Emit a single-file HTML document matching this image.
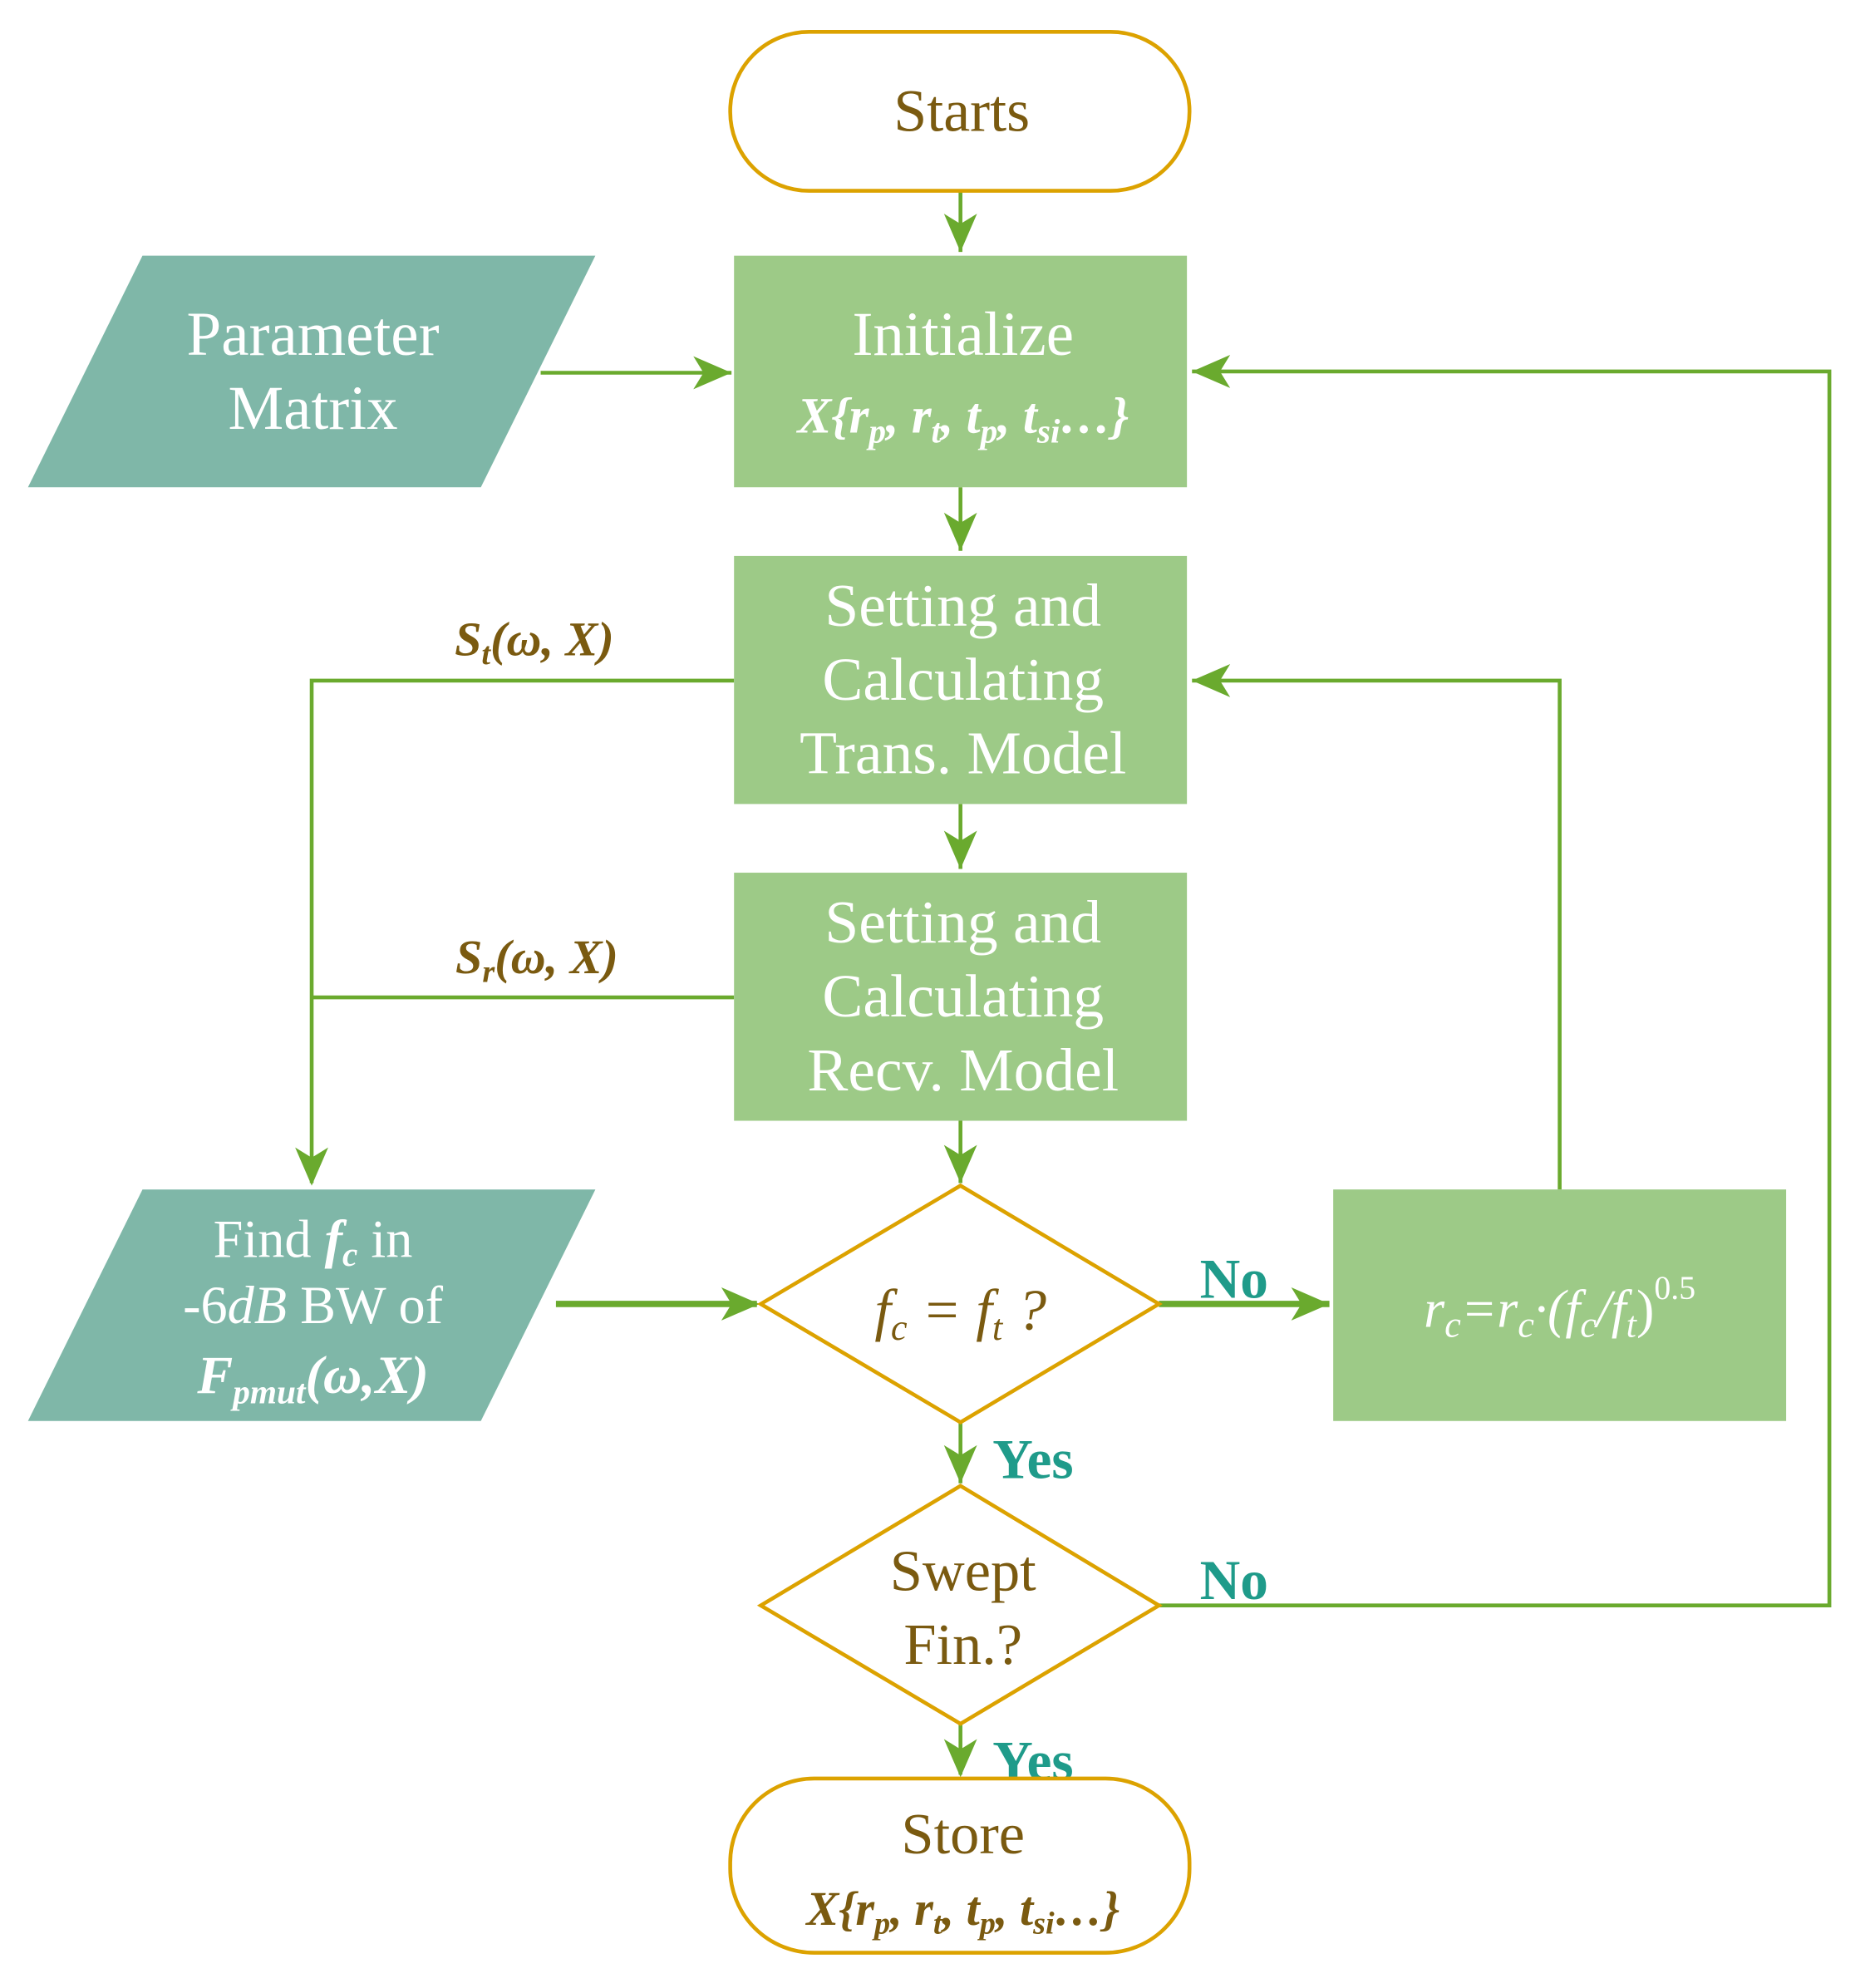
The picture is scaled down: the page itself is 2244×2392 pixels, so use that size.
<!DOCTYPE html>
<html><head><meta charset="utf-8"><style>
html,body{margin:0;padding:0;background:#fff;}
svg{display:block;}
text{font-family:"Liberation Serif",serif;}
</style></head><body>
<svg width="2244" height="2392" viewBox="0 0 1466 1562.7" xmlns="http://www.w3.org/2000/svg">
<g stroke="#6aaa2e" stroke-width="3" fill="none">
<path d="M755,150 V198"/><path d="M425,293 H575"/><path d="M755,383 V433"/><path d="M755,632 V683"/><path d="M755,881 V930"/>
<path d="M437,1025 H595" stroke-width="5"/><path d="M911,1025 H1045" stroke-width="5"/>
<path d="M1226,935 V535 H937"/><path d="M577,535 H245 V930"/><path d="M577,784 H245"/>
<path d="M755,1118 V1166"/><path d="M911,1262 H1438 V292 H937"/><path d="M755,1355 V1395"/>
</g>
<g fill="#6aaa2e">
<path d="M755,198 l-13,-30 l13,8 l13,-8 z"/>
<path d="M575,293 l-30,-13 l8,13 l-8,13 z"/>
<path d="M755,433 l-13,-30 l13,8 l13,-8 z"/>
<path d="M755,683 l-13,-30 l13,8 l13,-8 z"/>
<path d="M755,930 l-13,-30 l13,8 l13,-8 z"/>
<path d="M597,1025 l-30,-13 l8,13 l-8,13 z"/>
<path d="M1045,1025 l-30,-13 l8,13 l-8,13 z"/>
<path d="M937,535 l30,-13 l-8,13 l8,13 z"/>
<path d="M937,292 l30,-13 l-8,13 l8,13 z"/>
<path d="M245,932 l-13,-30 l13,8 l13,-8 z"/>
<path d="M755,1166 l-13,-30 l13,8 l13,-8 z"/>
<path d="M755,1397 l-13,-30 l13,8 l13,-8 z"/>
</g>
<rect x="574" y="25" width="361" height="125" rx="62" fill="#fff" stroke="#dca200" stroke-width="3"/>
<text x="756" y="103" font-size="47" fill="#7a5a10" text-anchor="middle">Starts</text>
<polygon points="112,201 468,201 378,383 22,383" fill="#7fb7a8"/>
<text x="246" y="279" font-size="49" fill="#fff" text-anchor="middle">Parameter</text>
<text x="246" y="337" font-size="49" fill="#fff" text-anchor="middle">Matrix</text>
<rect x="577" y="201" width="356" height="182" fill="#9dca87"/>
<text x="757" y="279" font-size="49" fill="#fff" text-anchor="middle">Initialize</text>
<text x="757" y="340" font-size="40" fill="#fff" text-anchor="middle" font-weight="bold" font-style="italic">X{r<tspan font-size="27" dy="8">p</tspan><tspan dy="-8">, r</tspan><tspan font-size="27" dy="8">t</tspan><tspan dy="-8">, t</tspan><tspan font-size="27" dy="8">p</tspan><tspan dy="-8">, t</tspan><tspan font-size="27" dy="8">si</tspan><tspan dy="-8">…}</tspan></text>
<rect x="577" y="437" width="356" height="195" fill="#9dca87"/>
<text x="757" y="492" font-size="48" fill="#fff" text-anchor="middle">Setting and</text>
<text x="757" y="550" font-size="48" fill="#fff" text-anchor="middle">Calculating</text>
<text x="757" y="608" font-size="48" fill="#fff" text-anchor="middle">Trans. Model</text>
<rect x="577" y="686" width="356" height="195" fill="#9dca87"/>
<text x="757" y="741" font-size="48" fill="#fff" text-anchor="middle">Setting and</text>
<text x="757" y="799" font-size="48" fill="#fff" text-anchor="middle">Calculating</text>
<text x="757" y="857" font-size="48" fill="#fff" text-anchor="middle">Recv. Model</text>
<text x="420" y="515" font-size="38" fill="#7a5a10" text-anchor="middle" font-weight="bold" font-style="italic">S<tspan font-size="25" dy="7">t</tspan><tspan dy="-7">(ω, X)</tspan></text>
<text x="422" y="765" font-size="38" fill="#7a5a10" text-anchor="middle" font-weight="bold" font-style="italic">S<tspan font-size="25" dy="7">r</tspan><tspan dy="-7">(ω, X)</tspan></text>
<polygon points="112,935 468,935 378,1117 22,1117" fill="#7fb7a8"/>
<text x="246" y="988" font-size="42" fill="#fff" text-anchor="middle">Find <tspan font-style="italic" font-weight="bold">f</tspan><tspan font-style="italic" font-weight="bold" font-size="27" dy="7">c</tspan><tspan dy="-7"> in</tspan></text>
<text x="246" y="1040" font-size="42" fill="#fff" text-anchor="middle">-6<tspan font-style="italic">dB</tspan> BW of</text>
<text x="246" y="1095" font-size="42" fill="#fff" text-anchor="middle" font-weight="bold" font-style="italic">F<tspan font-size="27" dy="8">pmut</tspan><tspan dy="-8">(ω,X)</tspan></text>
<polygon points="755,932 911,1025 755,1118 598,1025" fill="#fff" stroke="#dca200" stroke-width="3"/>
<text x="755" y="1045" font-size="46" fill="#7a5a10" text-anchor="middle" font-style="italic">f<tspan font-size="29" dy="8">c</tspan><tspan dy="-8"> = f</tspan><tspan font-size="29" dy="8">t</tspan><tspan dy="-8"> ?</tspan></text>
<rect x="1048" y="935" width="356" height="182" fill="#9dca87"/>
<text x="1226" y="1043" font-size="42" fill="#fff" text-anchor="middle" font-style="italic">r<tspan font-size="29" dy="8">c</tspan><tspan dy="-8">=r</tspan><tspan font-size="29" dy="8">c</tspan><tspan dy="-8">·(f</tspan><tspan font-size="29" dy="8">c</tspan><tspan dy="-8">/f</tspan><tspan font-size="29" dy="8">t</tspan><tspan dy="-8" font-style="normal">)</tspan><tspan font-size="26" dy="-22" font-style="normal">0.5</tspan></text>
<text x="970" y="1020" font-size="44" fill="#1f9b8a" text-anchor="middle" font-weight="bold">No</text>
<text x="970" y="1257" font-size="44" fill="#1f9b8a" text-anchor="middle" font-weight="bold">No</text>
<text x="812" y="1162" font-size="44" fill="#1f9b8a" text-anchor="middle" font-weight="bold">Yes</text>
<text x="812" y="1399" font-size="44" fill="#1f9b8a" text-anchor="middle" font-weight="bold">Yes</text>
<polygon points="755,1168 911,1262 755,1355 598,1262" fill="#fff" stroke="#dca200" stroke-width="3"/>
<text x="757" y="1250" font-size="46" fill="#7a5a10" text-anchor="middle">Swept</text>
<text x="757" y="1308" font-size="46" fill="#7a5a10" text-anchor="middle">Fin.?</text>
<rect x="574" y="1398" width="361" height="137" rx="66" fill="#fff" stroke="#dca200" stroke-width="3"/>
<text x="757" y="1457" font-size="46" fill="#7a5a10" text-anchor="middle">Store</text>
<text x="757" y="1513" font-size="38" fill="#7a5a10" text-anchor="middle" font-weight="bold" font-style="italic">X{r<tspan font-size="25" dy="7">p</tspan><tspan dy="-7">, r</tspan><tspan font-size="25" dy="7">t</tspan><tspan dy="-7">, t</tspan><tspan font-size="25" dy="7">p</tspan><tspan dy="-7">, t</tspan><tspan font-size="25" dy="7">si</tspan><tspan dy="-7">…}</tspan></text>
</svg>
</body></html>
